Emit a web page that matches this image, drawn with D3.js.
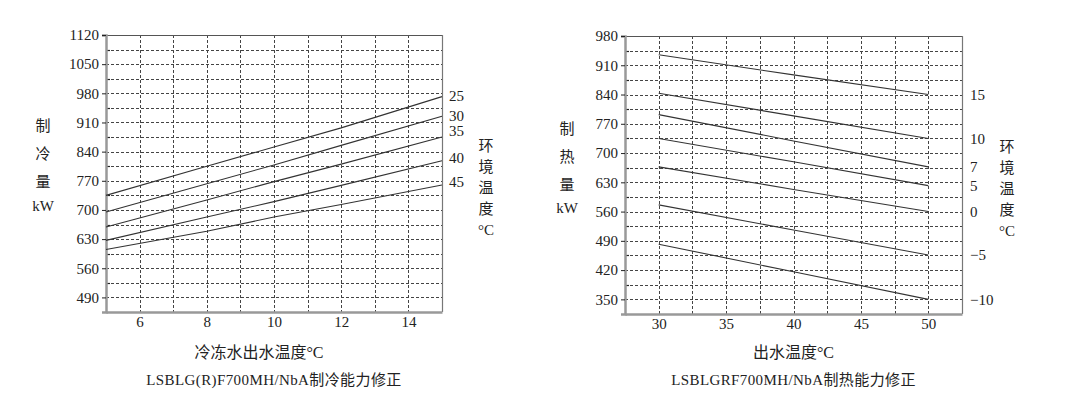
<!DOCTYPE html>
<html><head><meta charset="utf-8">
<script src="https://cdn.jsdelivr.net/npm/d3@7"></script>
<style>
body{margin:0;background:#fff;}
svg text{font-family:"Liberation Serif","Noto Sans CJK SC",serif !important;fill:#222;}
</style></head>
<body><svg id="c" width="1071" height="405"></svg>
<script>
// ---- Cooling chart data ----
const coolX = [5, 8, 10, 12, 15];
const coolSeriesNames = ["25", "30", "35", "40", "45"];
const cool25 = [735, 805, 851, 897, 972];
const cool30 = [695, 763, 808, 855, 925];
const cool35 = [659, 724, 768, 810, 875];
const cool40 = [627, 683, 720, 759, 818];
const cool45 = [605, 649, 683, 713, 760];
const coolLabelAt = [975, 927, 890, 826, 767];
const coolXTicks = [6, 8, 10, 12, 14];
const coolYTicks = [490, 560, 630, 700, 770, 840, 910, 980, 1050, 1120];

// ---- Heating chart data ----
const heatX = [30, 40, 50];
const heatSeriesNames = ["15", "10", "7", "5", "0", "\u22125", "\u221210"];
const heat15 = [935, 887, 840];
const heat10 = [843, 789, 735];
const heat7 = [792, 729, 667];
const heat5 = [735, 679, 622];
const heat0 = [667, 613, 560];
const heatM5 = [576, 516, 456];
const heatM10 = [482, 416, 350];
const heatXTicks = [30, 35, 40, 45, 50];
const heatYTicks = [350, 420, 490, 560, 630, 700, 770, 840, 910, 980];

const svg = d3.select("#c");
const FONT = '"Liberation Serif","Noto Sans CJK SC",serif';

function drawChart(cfg) {
  const g = svg.append("g").attr("font-family", FONT);
  const x = d3.scaleLinear().domain(cfg.xDomain).range([cfg.left, cfg.right]);
  const y = d3.scaleLinear().domain(cfg.yDomain).range([cfg.bottom, cfg.top]);

  const hgrid = d3.range(cfg.yTicks[0], cfg.yDomain[1] - 1, 35);
  g.selectAll(".hg").data(hgrid).join("line")
    .attr("x1", cfg.left).attr("x2", cfg.right)
    .attr("y1", d => Math.round(y(d)) + 0.5).attr("y2", d => Math.round(y(d)) + 0.5)
    .attr("stroke", "#444").attr("stroke-width", 1).attr("stroke-dasharray", "3,2");
  const vgrid = d3.range(cfg.xGridStart, cfg.xDomain[1] - 0.01, cfg.xGridStep);
  g.selectAll(".vg").data(vgrid).join("line")
    .attr("y1", cfg.top).attr("y2", cfg.bottom)
    .attr("x1", d => Math.round(x(d)) + 0.5).attr("x2", d => Math.round(x(d)) + 0.5)
    .attr("stroke", "#444").attr("stroke-width", 1).attr("stroke-dasharray", "3,2");

  g.selectAll(".mt").data(hgrid.filter(v => !cfg.yTicks.includes(v))).join("line")
    .attr("x1", cfg.left).attr("x2", cfg.left + 4)
    .attr("y1", d => Math.round(y(d)) + 0.5).attr("y2", d => Math.round(y(d)) + 0.5)
    .attr("stroke", "#222").attr("stroke-width", 1.2);

  g.append("line").attr("x1", cfg.left).attr("x2", cfg.right).attr("y1", cfg.top + 0.5).attr("y2", cfg.top + 0.5)
    .attr("stroke", "#555").attr("stroke-width", 1.2);
  g.append("line").attr("x1", cfg.right + 0.5).attr("x2", cfg.right + 0.5).attr("y1", cfg.top).attr("y2", cfg.bottom)
    .attr("stroke", "#777").attr("stroke-width", 1.2);

  const yAxis = d3.axisLeft(y).tickValues(cfg.yTicks).tickSize(4).tickPadding(3).tickFormat(d3.format("d"));
  const ya = g.append("g").attr("transform", `translate(${cfg.left},0)`).call(yAxis);
  ya.attr("font-family", FONT);
  ya.select(".domain").attr("stroke", "#999").attr("stroke-width", 2.5);
  ya.selectAll(".tick line").attr("stroke", "#222");
  ya.selectAll("text").style("font-size", "15px").attr("fill", "#222");

  const xAxis = d3.axisBottom(x).tickValues(cfg.xTicks).tickSize(0).tickPadding(4).tickFormat(d3.format("d"));
  const xa = g.append("g").attr("transform", `translate(0,${cfg.bottom})`).call(xAxis);
  xa.attr("font-family", FONT);
  xa.select(".domain").attr("stroke", "#999").attr("stroke-width", 2.5);
  xa.selectAll("text").style("font-size", "15px").attr("fill", "#222");

  const line = d3.line().x((d, i) => x(cfg.xs[i])).y(d => y(d));
  g.selectAll(".ln").data(cfg.series).join("path")
    .attr("d", d => line(d)).attr("fill", "none").attr("stroke", "#333").attr("stroke-width", 1.1);

  g.selectAll(".sl").data(cfg.names).join("text")
    .attr("x", cfg.right + cfg.labelDx).attr("y", (d, i) => y(cfg.labelAt[i]))
    .attr("dy", "0.35em").style("font-size", "15px").text(d => d);

  g.selectAll(".rl").data(cfg.rightTitle).join("text")
    .attr("x", cfg.rightTitleX).attr("y", (d, i) => cfg.rightTitleY + i * 21)
    .attr("text-anchor", "middle").attr("dy", "0.35em").style("font-size", "15px").text(d => d);

  g.selectAll(".ll").data(cfg.leftTitle).join("text")
    .attr("x", cfg.leftTitleX).attr("y", (d, i) => cfg.leftTitleY[i])
    .attr("text-anchor", "middle").attr("dy", "0.35em").style("font-size", "15px").text(d => d);

  g.append("text").attr("x", (cfg.left + cfg.right) / 2 + cfg.xLabelDx).attr("y", 352).attr("dy", "0.35em")
    .attr("text-anchor", "middle").style("font-size", "16px").text(cfg.xLabel);
  g.append("text").attr("x", (cfg.left + cfg.right) / 2).attr("y", 380).attr("dy", "0.35em")
    .attr("text-anchor", "middle").style("font-size", "15px").style("letter-spacing", "0.4px").text(cfg.title);
}

drawChart({
  left: 106, right: 442, top: 35, bottom: 312,
  xDomain: [5, 15], yDomain: [455, 1120],
  xTicks: coolXTicks, yTicks: coolYTicks, xGridStart: 6, xGridStep: 1,
  xs: coolX, series: [cool25, cool30, cool35, cool40, cool45],
  names: coolSeriesNames, labelAt: coolLabelAt, labelDx: 7,
  rightTitle: ["环", "境", "温", "度", "°C"], rightTitleX: 486, rightTitleY: 146,
  leftTitle: ["制", "冷", "量", "kW"], leftTitleX: 43, leftTitleY: [126, 154, 182, 206],
  xLabel: "冷冻水出水温度°C", xLabelDx: -15,
  title: "LSBLG(R)F700MH/NbA制冷能力修正"
});

drawChart({
  left: 625, right: 962, top: 36, bottom: 314,
  xDomain: [27.5, 52.5], yDomain: [315, 980],
  xTicks: heatXTicks, yTicks: heatYTicks, xGridStart: 30, xGridStep: 2.5,
  xs: heatX, series: [heat15, heat10, heat7, heat5, heat0, heatM5, heatM10],
  names: heatSeriesNames, labelAt: [heat15[2], heat10[2], heat7[2], heat5[2], heat0[2], heatM5[2], heatM10[2]], labelDx: 8,
  rightTitle: ["环", "境", "温", "度", "°C"], rightTitleX: 1007, rightTitleY: 147,
  leftTitle: ["制", "热", "量", "kW"], leftTitleX: 567, leftTitleY: [129, 157, 185, 208],
  xLabel: "出水温度°C", xLabelDx: 0,
  title: "LSBLGRF700MH/NbA制热能力修正"
});
</script></body></html>
